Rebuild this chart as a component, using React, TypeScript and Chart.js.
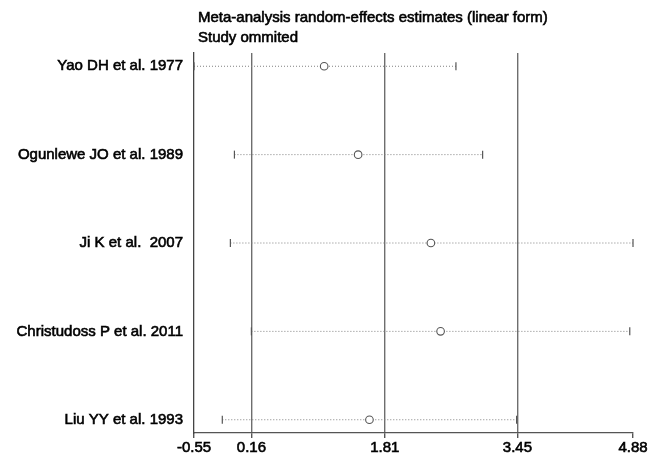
import React, { useEffect, useRef } from "react";
import { Chart, registerables } from "chart.js";

Chart.register(...registerables);

const titleLines = ["Meta-analysis random-effects estimates (linear form)", "Study ommited"];
const studies = [
  "Yao DH et al. 1977",
  "Ogunlewe JO et al. 1989",
  "Ji K et al.  2007",
  "Christudoss P et al. 2011",
  "Liu YY et al. 1993",
];
const estimates = [1.06, 1.48, 2.38, 2.5, 1.62];
const lowerCI = [-0.55, -0.05, -0.1, 0.16, -0.2];
const upperCI = [2.69, 3.02, 4.88, 4.84, 3.44];
const xTicks = [-0.55, 0.16, 1.81, 3.45, 4.88];
const refLines = [0.16, 1.81, 3.45];

const FONT = "'Liberation Sans', Arial, Helvetica, sans-serif";
const TEXT = "#000";
const STROKE_W = 0.6;

const titlePlugin = {
  id: "titleText",
  afterDraw(chart: any) {
    const ctx = chart.ctx;
    ctx.save();
    ctx.fillStyle = TEXT;
    ctx.strokeStyle = TEXT;
    ctx.lineWidth = STROKE_W;
    ctx.font = `15px ${FONT}`;
    ctx.textAlign = "left";
    ctx.textBaseline = "middle";
    ctx.strokeText(titleLines[0], 198, 18);
    ctx.fillText(titleLines[0], 198, 18);
    ctx.strokeText(titleLines[1], 198, 37.5);
    ctx.fillText(titleLines[1], 198, 37.5);
    ctx.restore();
  },
};

export default function App() {
  const ref = useRef<HTMLCanvasElement>(null);
  useEffect(() => {
    if (!ref.current) return;
    const intervalSets = studies.map((s, i) => ({
      type: "line" as const,
      label: s,
      data: [
        { x: lowerCI[i], y: i },
        { x: upperCI[i], y: i },
      ],
      showLine: true,
      borderColor: "#808080",
      borderWidth: 1,
      borderDash: [1, 2],
      pointStyle: "line",
      rotation: 90,
      pointRadius: 4,
      pointBorderColor: "#555",
      pointBorderWidth: 1.2,
      clip: false,
      order: 2,
    }));
    const chart = new Chart(ref.current, {
      type: "scatter",
      data: {
        datasets: [
          ...intervalSets,
          {
            type: "scatter",
            label: "Estimate",
            data: estimates.map((v, i) => ({ x: v, y: i })),
            pointStyle: "circle",
            pointRadius: 3.8,
            pointBackgroundColor: "#ffffff",
            pointBorderColor: "#555",
            pointBorderWidth: 1.1,
            clip: false,
            order: 1,
          } as any,
        ],
      },
      options: {
        animation: false,
        responsive: false,
        maintainAspectRatio: false,
        events: [],
        layout: { padding: { top: 53, right: 17, left: 0, bottom: 0 } },
        plugins: {
          legend: { display: false },
          tooltip: { enabled: false },
          title: { display: false },
        },
        scales: {
          x: {
            type: "linear",
            min: xTicks[0],
            max: xTicks[xTicks.length - 1],
            afterBuildTicks: (scale: any) => {
              scale.ticks = xTicks.map((v) => ({ value: v }));
            },
            afterFit: (scale: any) => {
              scale.height = 24;
            },
            ticks: {
              autoSkip: false,
              maxRotation: 0,
              padding: 1,
              color: TEXT,
              textStrokeColor: TEXT,
              textStrokeWidth: STROKE_W,
              font: { family: FONT, size: 15 },
              callback: (v: any) => Number(v).toFixed(2),
            },
            grid: {
              color: (c: any) =>
                c.tick && refLines.includes(c.tick.value) ? "#6e6e6e" : "rgba(0,0,0,0)",
              lineWidth: 1.4,
              tickColor: "#555",
              tickLength: 5,
              drawTicks: true,
            },
            border: { display: true, color: "#555", width: 1.3 },
          },
          y: {
            type: "linear",
            reverse: true,
            min: -0.15,
            max: 4.15,
            afterBuildTicks: (scale: any) => {
              scale.ticks = studies.map((_, i) => ({ value: i }));
            },
            afterFit: (scale: any) => {
              scale.width = 194;
            },
            ticks: {
              autoSkip: false,
              padding: 11,
              color: TEXT,
              textStrokeColor: TEXT,
              textStrokeWidth: STROKE_W,
              font: { family: FONT, size: 15 },
              callback: (v: any) => studies[v] ?? "",
            },
            grid: { display: false, drawTicks: false },
            border: { display: true, color: "#444", width: 1.3 },
          },
        },
      } as any,
      plugins: [titlePlugin],
    });
    return () => chart.destroy();
  }, []);
  return (
    <div style={{ position: "absolute", left: 0, top: 0, width: 650, height: 457, background: "#fff" }}>
      <canvas ref={ref} width={650} height={457} style={{ width: 650, height: 457 }} />
    </div>
  );
}
